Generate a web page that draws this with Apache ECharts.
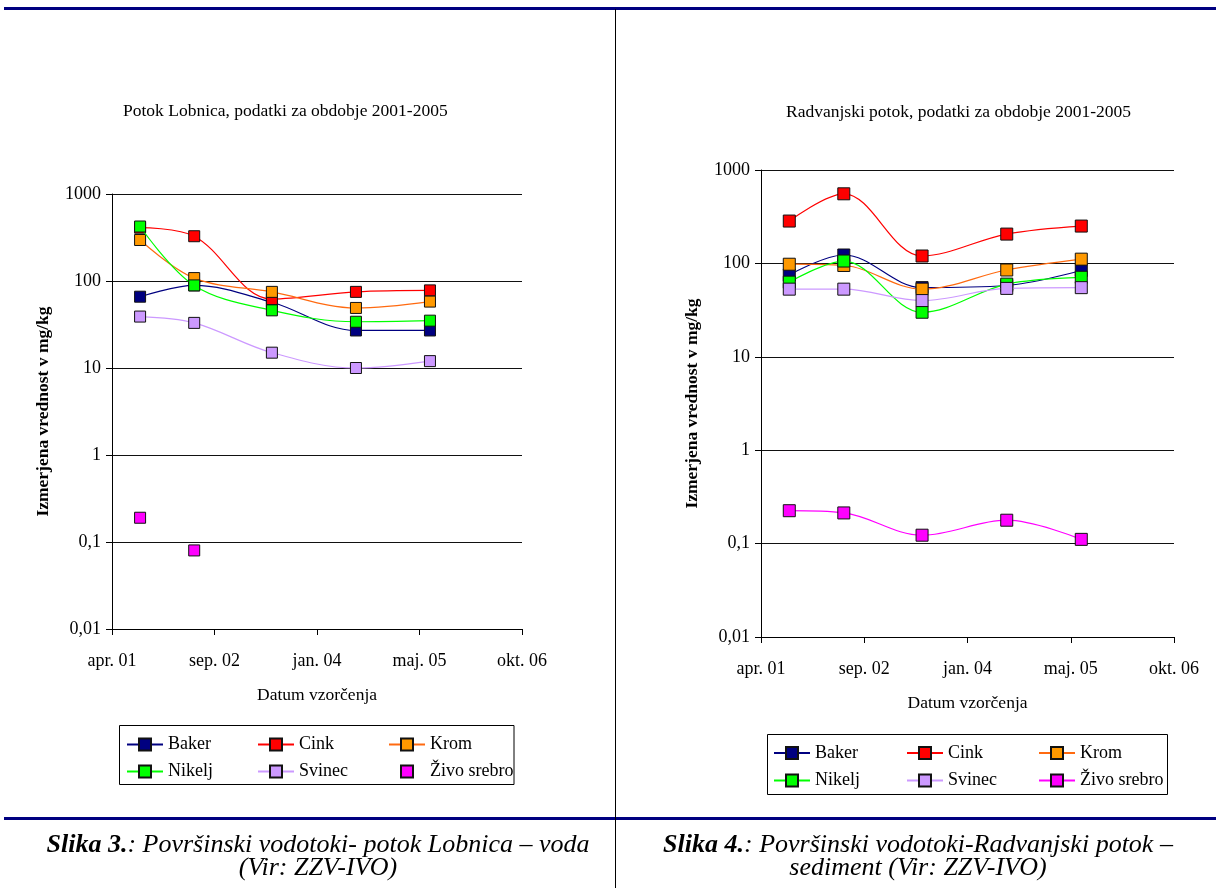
<!DOCTYPE html>
<html><head><meta charset="utf-8">
<script src="https://cdn.jsdelivr.net/npm/echarts@6/dist/echarts.min.js"></script>
<style>
html,body{margin:0;padding:0;background:#fff;}
#page{position:relative;width:1216px;height:888px;overflow:hidden;background:#fff;font-family:'Liberation Serif','Times New Roman',serif;}
#c1{position:absolute;left:0;top:0;width:615px;height:888px;}
#c2{position:absolute;left:616px;top:0;width:600px;height:888px;}
.hl{position:absolute;background:#000080;height:3px;left:4px;width:1212px;}
.vl{position:absolute;background:#000;width:1px;left:615px;top:9px;height:879px;}
.cap{position:absolute;text-align:center;font-style:italic;font-size:26px;line-height:23px;color:#000;white-space:nowrap;}
</style></head>
<body><div id="page">
<div id="c1"></div><div id="c2"></div>
<div class="hl" style="top:7px"></div>
<div class="hl" style="top:817px"></div>
<div class="vl"></div>
<div class="cap" style="left:18px;width:600px;top:832px"><b>Slika 3.</b>: Površinski vodotoki- potok Lobnica – voda<br>(Vir: ZZV-IVO)</div>
<div class="cap" style="left:618px;width:600px;top:832px"><b>Slika 4.</b>: Površinski vodotoki-Radvanjski potok –<br>sediment (Vir: ZZV-IVO)</div>
</div>
<script>
// Sampling dates as Excel serial day numbers
const sampleDates = [37137, 37401, 37780, 38190, 38551];
const xTickLabels = ['apr. 01', 'sep. 02', 'jan. 04', 'maj. 05', 'okt. 06'];
const yTickLabels = ['0,01', '0,1', '1', '10', '100', '1000'];
const seriesNames = ['Baker', 'Cink', 'Krom', 'Nikelj', 'Svinec', 'Živo srebro'];

// Potok Lobnica – voda
const lobBaker  = [66, 89, 57, 27, 27];
const lobCink   = [410, 327, 62, 75, 78];
const lobKrom   = [296, 108, 75, 49, 58];
const lobNikelj = [423, 89, 46, 34, 35];
const lobSvinec = [39, 33, 15, 10, 12];
const lobZivo   = [0.19, 0.08, null, null, null];

// Radvanjski potok – sediment
const radBaker  = [75, 123, 55, 58, 84];
const radCink   = [284, 556, 120, 206, 251];
const radKrom   = [98, 95, 53, 85, 111];
const radNikelj = [63, 106, 30, 60, 71];
const radSvinec = [53, 53, 40, 54, 55];
const radZivo   = [0.225, 0.213, 0.123, 0.178, 0.111];

const FONT = 'Liberation Serif';
const lineColors = ['#000080', '#FF0000', '#FF6A10', '#00FF00', '#CC99FF', '#FF00FF'];
const fillColors = ['#000080', '#FF0000', '#FF9900', '#00FF00', '#CC99FF', '#FF00FF'];

function build(cfg) {
  const series = cfg.values.map((vals, i) => {
    const pts = [];
    sampleDates.forEach((d, j) => { if (vals[j] != null) pts.push([d, vals[j]]); });
    const noLine = cfg.noLineLast && i === 5;
    return {
      name: seriesNames[i],
      type: 'line',
      data: pts,
      symbol: 'rect',
      symbolSize: cfg.sym,
      showSymbol: true,
      smooth: 0.35,
      itemStyle: { color: fillColors[i], borderColor: '#111', borderWidth: 1 },
      lineStyle: noLine ? { color: lineColors[i], width: 0, opacity: 0 } : { color: lineColors[i], width: 1.2 },
      emphasis: { disabled: true },
      z: 2 + i
    };
  });
  const legendCols = [['Baker', 'Nikelj'], ['Cink', 'Svinec'], ['Krom', 'Živo srebro']];
  const legends = legendCols.map((names, k) => ({
    orient: 'vertical',
    left: cfg.legendX[k],
    top: cfg.legendTop,
    padding: 0,
    itemWidth: 36,
    itemHeight: 15,
    itemGap: cfg.legendGap,
    selectedMode: false,
    data: names,
    textStyle: { fontFamily: FONT, fontSize: 18, color: '#000', lineHeight: 18, padding: [0, 0, 0, 0] }
  }));
  return {
    animation: false,
    backgroundColor: 'transparent',
    title: {
      text: cfg.title,
      left: cfg.titleX,
      top: cfg.titleY,
      padding: 0,
      textStyle: { fontFamily: FONT, fontSize: 17.5, fontWeight: 'normal', color: '#000' }
    },
    grid: cfg.grid,
    legend: legends,
    xAxis: {
      type: 'value', min: 37000, max: 39000, interval: 500,
      axisLine: { lineStyle: { color: '#000', width: 1 } },
      axisTick: { show: true, length: 6, lineStyle: { color: '#000' } },
      splitLine: { show: false },
      axisLabel: {
        fontFamily: FONT, fontSize: 18, color: '#000', margin: 23,
        formatter: v => xTickLabels[Math.round((v - 37000) / 500)]
      },
      name: 'Datum vzorčenja', nameLocation: 'middle', nameGap: 57,
      nameTextStyle: { fontFamily: FONT, fontSize: 17.5, color: '#000' }
    },
    yAxis: {
      type: 'log', logBase: 10, min: 0.01, max: 1000,
      axisLine: { show: true, lineStyle: { color: '#000', width: 1 } },
      axisTick: { show: true, length: 6, lineStyle: { color: '#000' } },
      splitLine: { show: true, lineStyle: { color: '#111', width: 1 } },
      axisLabel: {
        fontFamily: FONT, fontSize: 18, color: '#000', margin: 11,
        formatter: v => yTickLabels[Math.round(Math.log10(v)) + 2]
      },
      name: 'Izmerjena vrednost v mg/kg', nameLocation: 'middle', nameRotate: 90, nameGap: 60,
      nameTextStyle: { fontFamily: FONT, fontSize: 17.5, fontWeight: 'bold', color: '#000' }
    },
    graphic: [{
      type: 'rect',
      shape: cfg.legendBox,
      style: { fill: 'none', stroke: '#000', lineWidth: 1 },
      z: 0
    }],
    series
  };
}

const c1 = echarts.init(document.getElementById('c1'), null, { renderer: 'canvas' });
c1.setOption(build({
  title: 'Potok Lobnica, podatki za obdobje 2001-2005',
  titleX: 123, titleY: 102,
  grid: { left: 112, right: 93, top: 194, bottom: 259 },
  values: [lobBaker, lobCink, lobKrom, lobNikelj, lobSvinec, lobZivo],
  noLineLast: true,
  sym: 11,
  legendX: [126, 257, 388],
  legendTop: 735.5,
  legendGap: 9,
  legendBox: { x: 119.5, y: 725.5, width: 394.5, height: 59 }
}));

const c2 = echarts.init(document.getElementById('c2'), null, { renderer: 'canvas' });
c2.setOption(build({
  title: 'Radvanjski potok, podatki za obdobje 2001-2005',
  titleX: 786 - 616, titleY: 103,
  grid: { left: 145, right: 42, top: 170, bottom: 251 },
  values: [radBaker, radCink, radKrom, radNikelj, radSvinec, radZivo],
  noLineLast: false,
  sym: 12,
  legendX: [157, 290, 422],
  legendTop: 744,
  legendGap: 9.5,
  legendBox: { x: 151.5, y: 734.5, width: 400, height: 60 }
}));
</script>
</body></html>
